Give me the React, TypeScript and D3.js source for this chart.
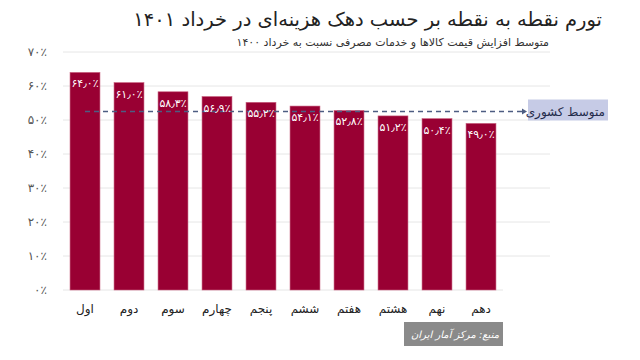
import React, { useEffect, useRef } from 'react';
import * as d3 from 'd3';

const deciles = ['اول', 'دوم', 'سوم', 'چهارم', 'پنجم', 'ششم', 'هفتم', 'هشتم', 'نهم', 'دهم'];
const inflation = [64.0, 61.0, 58.3, 56.9, 55.2, 54.1, 52.8, 51.2, 50.4, 49.0];
const nationalAvg = 52.5;
const yTicks = [0, 10, 20, 30, 40, 50, 60, 70];

const title = 'تورم نقطه به نقطه بر حسب دهک هزینه‌ای در خرداد ۱۴۰۱';
const subtitle = 'متوسط افزایش قیمت کالاها و خدمات مصرفی نسبت به خرداد ۱۴۰۰';
const avgLabel = 'متوسط کشوری';
const source = 'منبع: مرکز آمار ایران';

const FONT = '"DejaVu Sans", sans-serif';

const fa = (s: string) => s.replace(/\d/g, (d) => '۰۱۲۳۴۵۶۷۸۹'[+d]).replace('.', '٫');

const App = () => {
  const ref = useRef<SVGSVGElement>(null);

  useEffect(() => {
    const svg = d3.select(ref.current);
    svg.selectAll('*').remove();

    const x = d3.scaleBand().domain(deciles).range([63, 503]).paddingInner(0.32).paddingOuter(0.16);
    const y = d3.scaleLinear().domain([0, 70]).range([290, 52]);

    // titles (rtl: 'start' anchors the right edge)
    svg.append('text').attr('x', 602).attr('y', 26).attr('text-anchor', 'start')
      .attr('direction', 'rtl').style('font-size', '19.5px').style('fill', '#222').text(title);
    svg.append('text').attr('x', 549).attr('y', 46).attr('text-anchor', 'start')
      .attr('direction', 'rtl').style('font-size', '11px').style('fill', '#333').text(subtitle);

    // grid
    svg.append('g').selectAll('line').data(yTicks.slice(1)).enter().append('line')
      .attr('x1', 63).attr('x2', 550).attr('y1', (d) => y(d)).attr('y2', (d) => y(d))
      .style('stroke', '#e6e6e6');
    svg.append('line').attr('x1', 63).attr('x2', 503).attr('y1', y(0)).attr('y2', y(0))
      .style('stroke', '#e6e6e6');

    svg.append('g').selectAll('text').data(yTicks).enter().append('text')
      .attr('x', 47).attr('y', (d) => y(d) + 4).attr('text-anchor', 'end')
      .style('font-size', '12px').style('fill', '#555')
      .text((d) => fa(String(d)) + '٪');

    // bars
    svg.append('g').selectAll('rect').data(inflation).enter().append('rect')
      .attr('x', (d, i) => x(deciles[i])!)
      .attr('y', (d) => y(d))
      .attr('width', x.bandwidth())
      .attr('height', (d) => y(0) - y(d))
      .style('fill', '#990033')
      .style('stroke', '#c8607f')
      .style('stroke-width', 0.6);

    // average line
    const ay = y(nationalAvg);
    svg.append('line').attr('x1', x(deciles[0])! + x.bandwidth() / 2).attr('x2', 522)
      .attr('y1', ay).attr('y2', ay)
      .style('stroke', '#4d5d82').style('stroke-width', 1.3).style('stroke-dasharray', '5,4');
    svg.append('path').attr('d', `M522,${ay - 3}L527,${ay}L522,${ay + 3}Z`).style('fill', '#4d5d82');
    svg.append('rect').attr('x', 528).attr('y', ay - 12).attr('width', 80).attr('height', 21)
      .style('fill', '#c6cbe6');
    svg.append('text').attr('x', 605).attr('y', ay + 4).attr('text-anchor', 'start')
      .attr('direction', 'rtl').style('font-size', '12px').style('fill', '#1f2a4a').text(avgLabel);

    // value labels
    svg.append('g').selectAll('text').data(inflation).enter().append('text')
      .attr('x', (d, i) => x(deciles[i])! + x.bandwidth() / 2)
      .attr('y', (d) => y(d) + 15)
      .attr('text-anchor', 'middle')
      .style('font-size', '11px').style('fill', '#fff')
      .text((d) => fa(d.toFixed(1)) + '٪');

    // x labels
    svg.append('g').selectAll('text').data(deciles).enter().append('text')
      .attr('x', (d) => x(d)! + x.bandwidth() / 2).attr('y', 313)
      .attr('text-anchor', 'middle').attr('direction', 'rtl')
      .style('font-size', '12px').style('fill', '#222').text((d) => d);

    // source
    svg.append('rect').attr('x', 404).attr('y', 322).attr('width', 99).attr('height', 24)
      .style('fill', '#8a8a8a');
    svg.append('text').attr('x', 499).attr('y', 338).attr('text-anchor', 'start')
      .attr('direction', 'rtl').style('font-size', '10px').style('font-style', 'italic')
      .style('fill', '#fff').text(source);
  }, []);

  return (
    <svg ref={ref} width={640} height={360}
      style={{ position: 'absolute', left: 0, top: 0, background: '#fff', fontFamily: FONT }} />
  );
};

export default App;
